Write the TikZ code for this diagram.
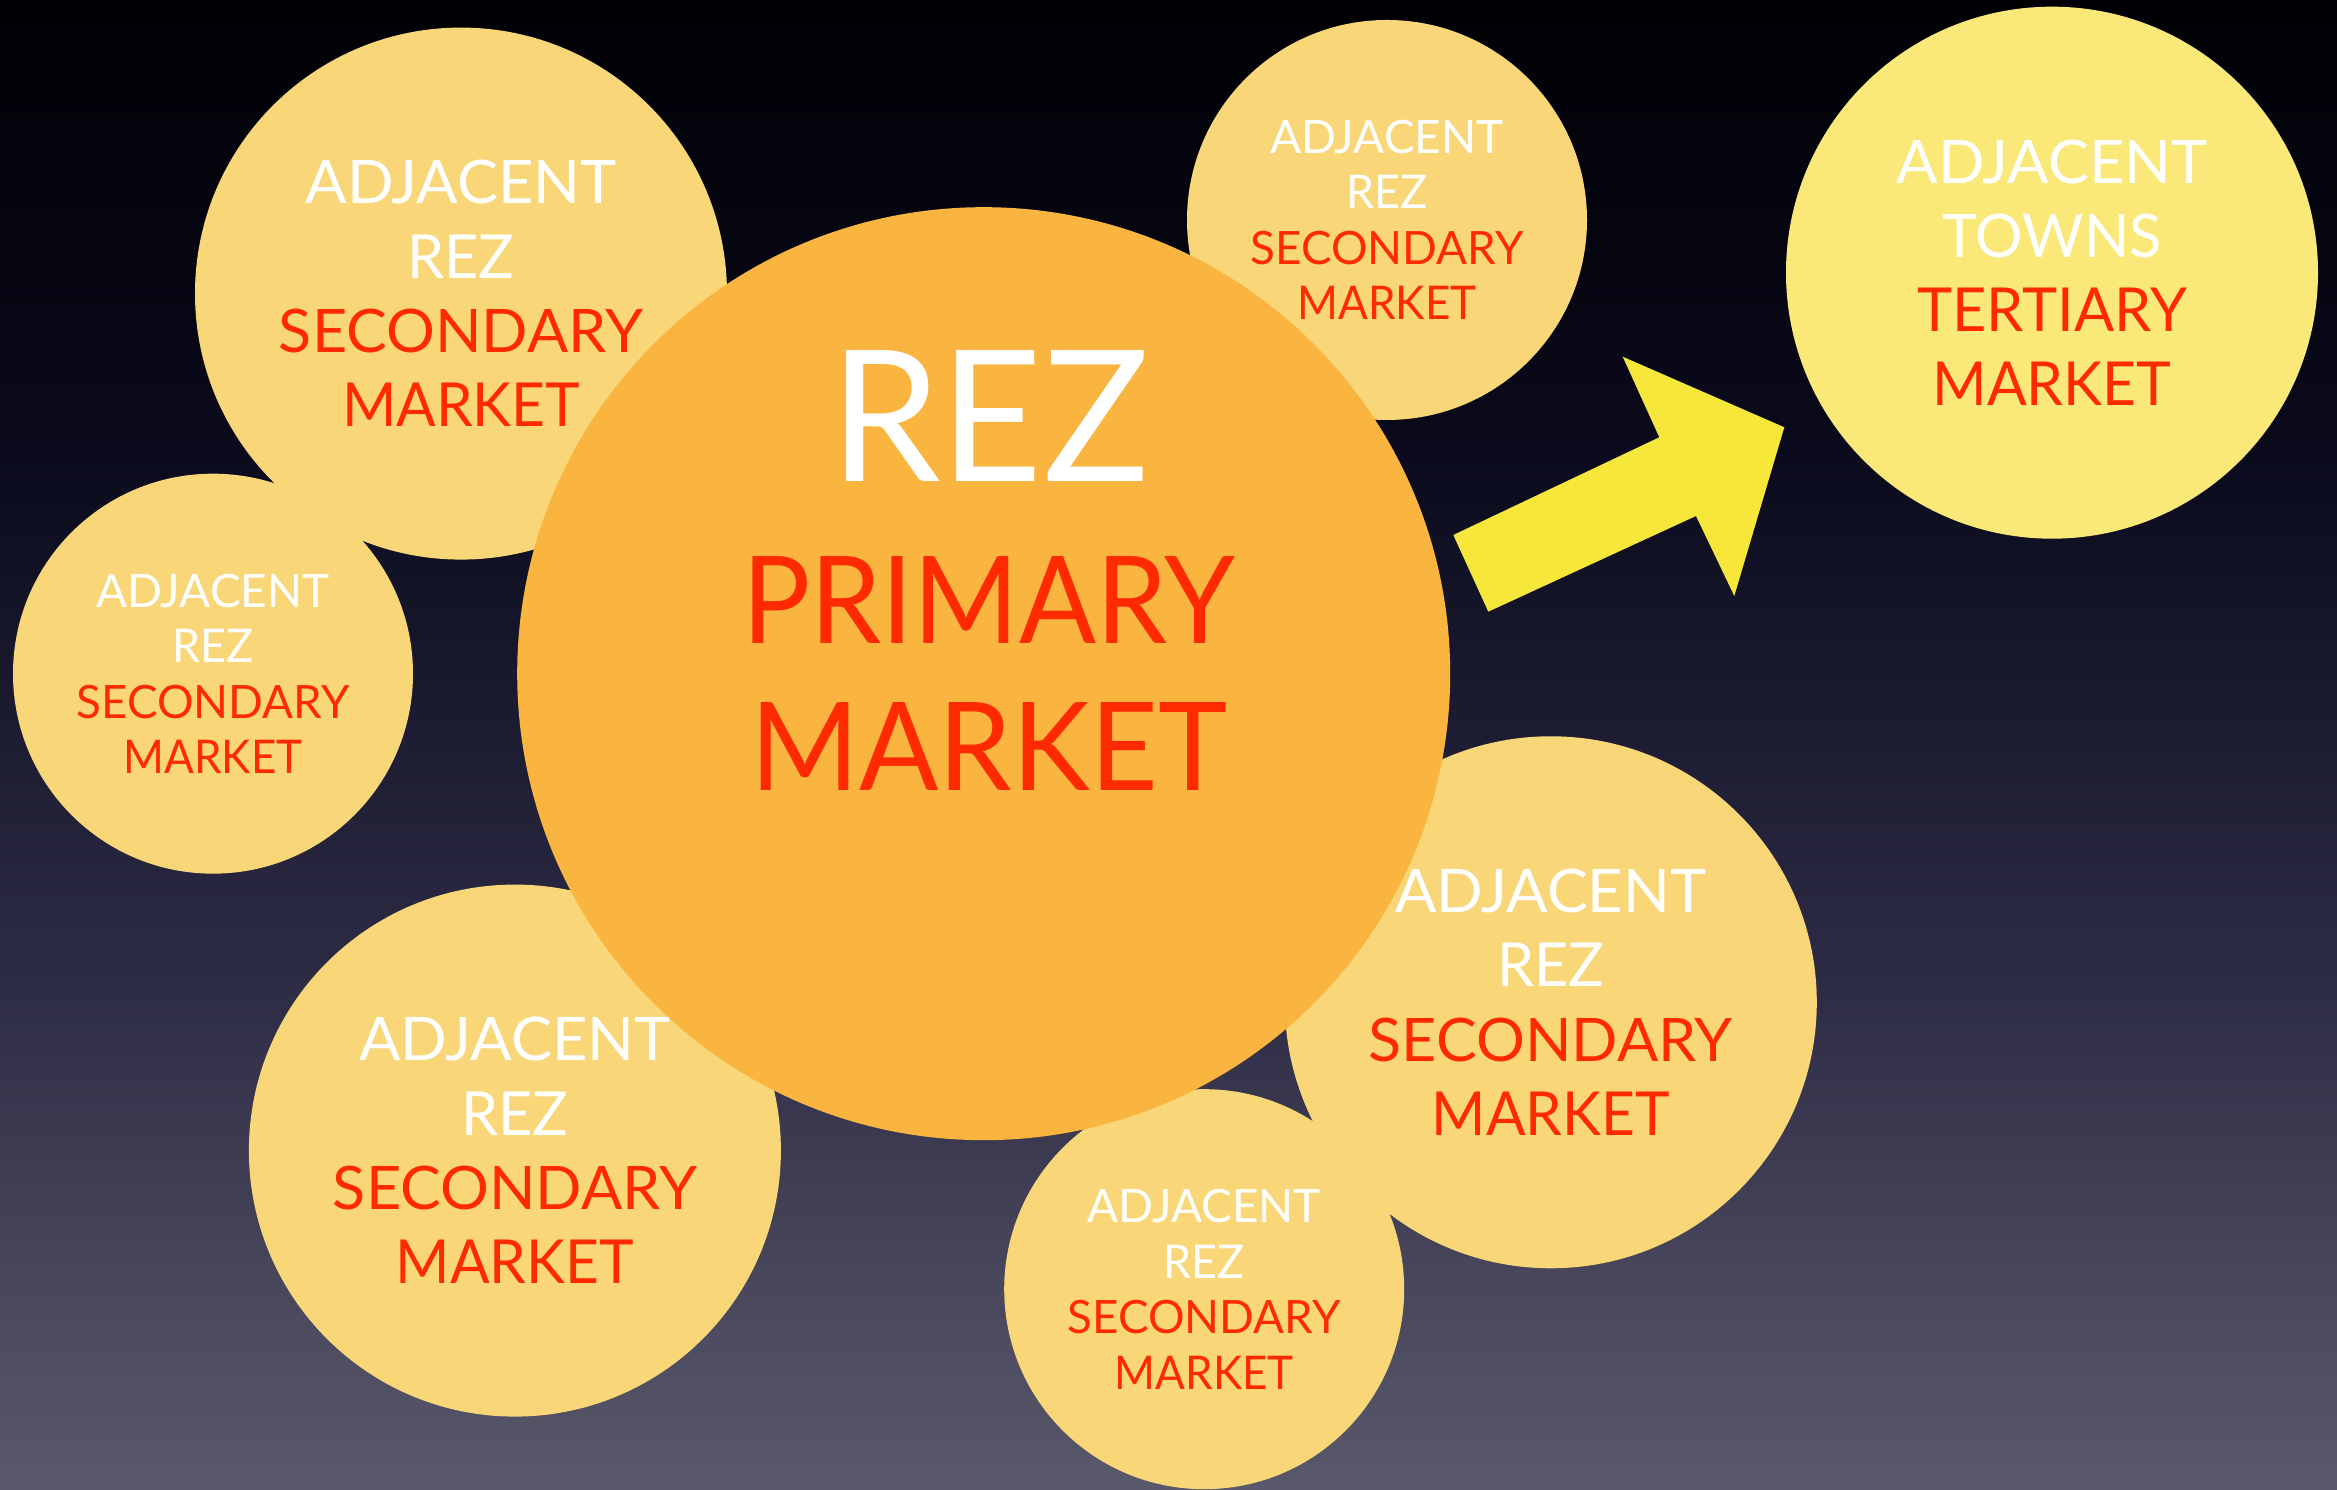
\documentclass[tikz,border=0pt]{standalone}
\usepackage{fontspec}
\setmainfont{Lato}
\usepackage{graphicx}
\definecolor{bgA}{RGB}{90,89,107}
\definecolor{bgB}{RGB}{44,43,68}
\definecolor{bgC}{RGB}{10,10,28}
\definecolor{bgD}{RGB}{0,0,4}
\definecolor{secfill}{RGB}{249,215,121}
\definecolor{bigfill}{RGB}{249,181,63}
\definecolor{terfill}{RGB}{250,233,120}
\definecolor{arrowfill}{RGB}{246,231,58}
\definecolor{mktred}{RGB}{255,42,0}
% the path is mapped onto 25bp..75bp of the shading
\pgfdeclareverticalshading{bgshade}{100bp}{color(0bp)=(bgA); color(25bp)=(bgA); color(42.5bp)=(bgB); color(60bp)=(bgC); color(75bp)=(bgD); color(100bp)=(bgD)}
\newcommand\LW[2]{\resizebox{#1cm}{0.435cm}{#2}}
\newcommand\SW[2]{\resizebox{#1cm}{0.333cm}{#2}}
\tikzset{
  bubble/.style={circle, draw=none, inner sep=0pt},
  large/.style={bubble, fill=secfill, minimum size=5.32cm},
  small/.style={bubble, fill=secfill, minimum size=4.0cm},
  tertiary/.style={bubble, fill=terfill, minimum size=5.32cm},
  primary/.style={bubble, fill=bigfill, minimum size=9.33cm},
  wtxt/.style={text=white, inner sep=0pt, anchor=base},
  rtxt/.style={text=mktred, inner sep=0pt, anchor=base},
  arrowshape/.style={fill=arrowfill, draw=none}
}
\begin{document}
\begin{tikzpicture}
\useasboundingbox (0,0) rectangle (23.37,14.90);
\shade[shading=bgshade] (0,0) rectangle (23.37,14.90);

% bubbles (back to front)
\node[large] (tl) at (4.61,11.964) {};
\node[small] (lf) at (2.13,8.163) {};
\node[large] (bl) at (5.149,3.394) {};
\node[small] (tm) at (13.87,12.70) {};
\node[large] (br) at (15.508,4.877) {};
\node[small] (bm) at (12.042,2.008) {};
\node[primary] (pm) at (9.837,8.163) {};
\node[tertiary] (tr) at (20.52,12.173) {};

% arrow
\coordinate (a1) at (14.533,9.55);
\coordinate (a2) at (16.593,10.527);
\coordinate (a3) at (16.227,11.333);
\coordinate (a4) at (17.843,10.627);
\coordinate (a5) at (17.343,8.94);
\coordinate (a6) at (16.96,9.74);
\coordinate (a7) at (14.883,8.783);
\fill[arrowshape] (a1) -- (a2) -- (a3) -- (a4) -- (a5) -- (a6) -- (a7) -- cycle;

% texts: large secondary bubbles
\foreach \c in {tl,bl,br}{
  \node[wtxt] (\c-1) at ([yshift=0.896cm]\c.center) {\LW{3.11}{ADJACENT}};
  \node[wtxt] (\c-2) at ([yshift=0.154cm]\c.center) {\LW{1.07}{REZ}};
  \node[rtxt] (\c-3) at ([yshift=-0.588cm]\c.center) {\LW{3.64}{SECONDARY}};
  \node[rtxt] (\c-4) at ([yshift=-1.33cm]\c.center) {\LW{2.38}{MARKET}};
}
% small secondary bubbles
\foreach \c in {lf,tm,bm}{
  \node[wtxt] (\c-1) at ([yshift=0.666cm]\c.center) {\SW{2.33}{ADJACENT}};
  \node[wtxt] (\c-2) at ([yshift=0.111cm]\c.center) {\SW{0.81}{REZ}};
  \node[rtxt] (\c-3) at ([yshift=-0.444cm]\c.center) {\SW{2.73}{SECONDARY}};
  \node[rtxt] (\c-4) at ([yshift=-0.999cm]\c.center) {\SW{1.79}{MARKET}};
}
% tertiary
\node[wtxt] (tr-1) at ([yshift=0.896cm]tr.center) {\LW{3.11}{ADJACENT}};
\node[wtxt] (tr-2) at ([yshift=0.154cm]tr.center) {\LW{2.19}{TOWNS}};
\node[rtxt] (tr-3) at ([yshift=-0.588cm]tr.center) {\LW{2.70}{TERTIARY}};
\node[rtxt] (tr-4) at ([yshift=-1.33cm]tr.center) {\LW{2.39}{MARKET}};
% primary
\node[wtxt] (pm-1) at ([xshift=0.06cm,yshift=1.92cm]pm.center) {\resizebox{3.19cm}{1.31cm}{REZ}};
\node[rtxt] (pm-2) at ([xshift=0.05cm,yshift=0.297cm]pm.center) {\resizebox{4.93cm}{0.87cm}{PRIMARY}};
\node[rtxt] (pm-3) at ([xshift=0.05cm,yshift=-1.173cm]pm.center) {\resizebox{4.77cm}{0.88cm}{MARKET}};
\end{tikzpicture}
\end{document}
